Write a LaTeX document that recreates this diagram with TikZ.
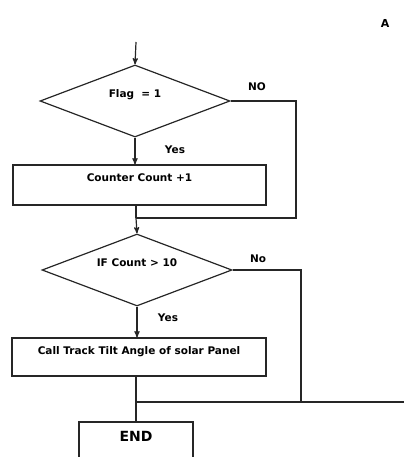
\documentclass[tikz,border=0pt]{standalone}
\usepackage{fontspec}
\setmainfont{DejaVu Sans}
\usepackage{tikz}
\usetikzlibrary{shapes}
\usetikzlibrary{arrows}
\tikzset{
  decision node/.style={diamond,draw,aspect=2.64,inner sep=0pt,minimum width=190pt,minimum height=72pt,
    text height=8pt,text depth=15pt,font=\bfseries\fontsize{10.5}{12}\selectfont},
  process node/.style={rectangle,draw,inner sep=0pt,text height=16pt,font=\bfseries\fontsize{10.5}{12}\selectfont},
  answer/.style={font=\bfseries\fontsize{10.5}{12}\selectfont}
}
\begin{document}
\begin{tikzpicture}[->,>=stealth',x=1pt,y=-1pt,line width=1.2pt,draw=black!85]
  \useasboundingbox (0,0) rectangle (404,457);
  \node [answer,font=\bfseries\fontsize{11}{13}\selectfont] (corner) at (385,23) {A};
  \coordinate (start) at (136,42);
  \node [decision node] (flag) at (135,101) {Flag\ \ = 1};
  \node [process node,minimum width=253pt,minimum height=40pt,text depth=24pt] (count) at (139.5,185) {Counter Count +1};
  \node [decision node] (test) at (137,270) {IF Count > 10};
  \node [process node,minimum width=254pt,minimum height=38pt,text depth=22pt] (call) at (139,357) {Call Track Tilt Angle of solar Panel};
  \node [process node,minimum width=114pt,minimum height=38pt,text height=19pt,text depth=19pt,
    font=\bfseries\fontsize{14}{16}\selectfont] (end) at (136,441) {END};
  \coordinate (r1) at (296,218);
  \coordinate (j1) at (136,218);
  \coordinate (r2) at (301,402);
  \coordinate (j2) at (136,402);
  \coordinate (edge) at (404,402);
  \node [answer] (no1) at (257,87) {NO};
  \node [answer] (yes1) at (175,150) {Yes};
  \node [answer] (no2) at (258,259) {No};
  \node [answer] (yes2) at (168,318) {Yes};
  \draw (start) -- (flag.north);
  \draw (flag.south) -- (flag.south |- count.north);
  \draw [-] (flag.east) -| (r1) -- (j1);
  \draw [-] (j1 |- count.south) -- (j1);
  \draw (j1) -- (test.north);
  \draw (test.south) -- (test.south |- call.north);
  \draw [-] (test.east) -| (r2);
  \draw [-] (j2 |- call.south) -- (j2) -- (edge);
  \draw [-] (j2) -- (end.north);
\end{tikzpicture}
\end{document}
